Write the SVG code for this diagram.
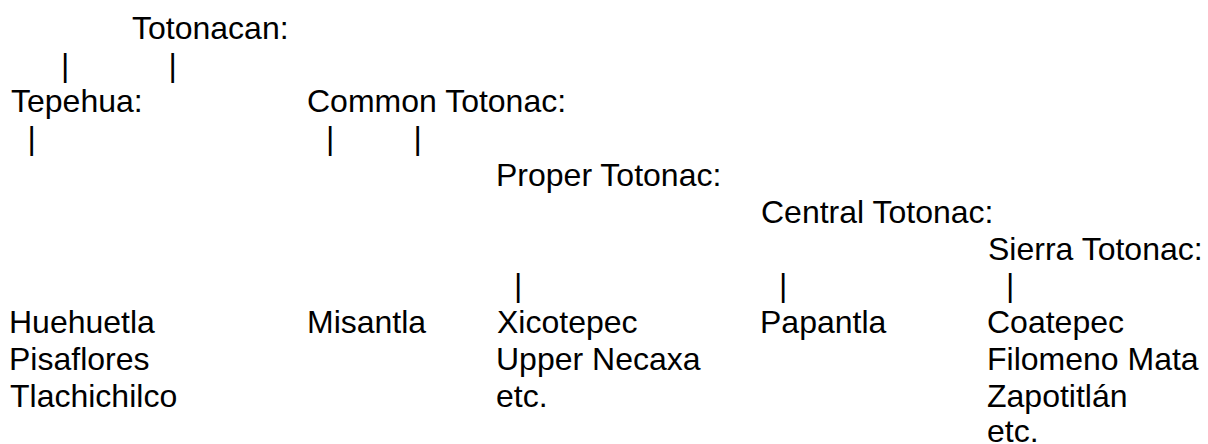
<svg xmlns="http://www.w3.org/2000/svg" width="1208" height="444" viewBox="0 0 1208 444">
  <style>
    text { font-family: "Liberation Sans", Arial, sans-serif; font-size: 32px; fill: #000; }
  </style>
  <rect width="1208" height="444" fill="#fff"/>

  <!-- family tree rows, 36.8px line pitch -->
  <g id="totonacan"><text x="132" y="38.8">Totonacan:</text></g>
  <g id="tepehua"><text x="11" y="112.4">Tepehua:</text></g>
  <g id="common-totonac"><text x="307" y="112.4">Common Totonac:</text></g>
  <g id="proper-totonac"><text x="496" y="186">Proper Totonac:</text></g>
  <g id="central-totonac"><text x="761" y="222.8">Central Totonac:</text></g>
  <g id="sierra-totonac"><text x="988" y="259.6">Sierra Totonac:</text></g>

  <g id="tepehua-varieties">
    <text x="9" y="333.2">Huehuetla</text>
    <text x="9" y="370">Pisaflores</text>
    <text x="10" y="406.8">Tlachichilco</text>
  </g>
  <g id="misantla"><text x="307" y="333.2">Misantla</text></g>
  <g id="proper-varieties">
    <text x="497" y="333.2">Xicotepec</text>
    <text x="496" y="370">Upper Necaxa</text>
    <text x="496" y="406.8">etc.</text>
  </g>
  <g id="papantla"><text x="760" y="333.2">Papantla</text></g>
  <g id="sierra-varieties">
    <text x="987" y="333.2">Coatepec</text>
    <text x="987" y="370">Filomeno Mata</text>
    <text x="987" y="406.8">Zapotitlán</text>
    <text x="987" y="442">etc.</text>
  </g>

  <!-- branch ticks -->
  <g id="connectors">
    <text x="61" y="75.6">|</text>
    <text x="168.5" y="75.6">|</text>
    <text x="27.5" y="149.2">|</text>
    <text x="326" y="149.2">|</text>
    <text x="413.5" y="149.2">|</text>
    <text x="514" y="296.4">|</text>
    <text x="779" y="296.4">|</text>
    <text x="1006" y="296.4">|</text>
  </g>
</svg>
